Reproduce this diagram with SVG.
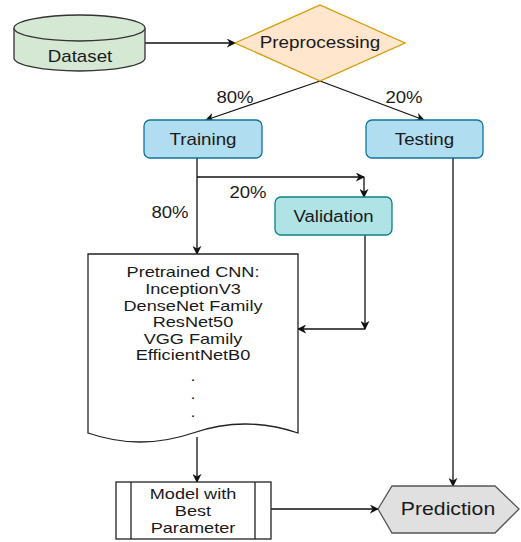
<svg xmlns="http://www.w3.org/2000/svg" width="521" height="542" viewBox="0 0 521 542">
<style>
text{font-family:"Liberation Sans",Arial,sans-serif;font-size:16px;fill:#1a1a1a;text-anchor:middle;dominant-baseline:central}
text.sm{font-size:14.5px}
.ln{fill:none;stroke:#111;stroke-width:1.3}
.arr{marker-end:url(#ah)}
.blue{fill:#B1DDF0;stroke:#10739E;stroke-width:1.3}
.teal{fill:#B0E3E6;stroke:#0E8088;stroke-width:1.3}
</style>
<defs>
<marker id="ah" viewBox="0 0 10 10" refX="9" refY="5" markerWidth="9" markerHeight="9" markerUnits="userSpaceOnUse" orient="auto">
<path d="M0,0 L10,5 L0,10 L3,5 z" fill="#111"/>
</marker>
</defs>
<g id="connectors">
<path class="ln arr" d="M145,43 H235"/>
<path class="ln arr" d="M320,81 L206,120"/>
<path class="ln arr" d="M320,81 L424,120"/>
<path class="ln arr" d="M197,158 V254"/>
<path class="ln arr" d="M197,177 H364"/>
<path class="ln arr" d="M364,177 V197"/>
<path class="ln arr" d="M365,235 V329"/>
<path class="ln arr" d="M365,329 H298"/>
<path class="ln arr" d="M197,437 V482"/>
<path class="ln arr" d="M271,509 H378"/>
<path class="ln arr" d="M453,158 V486"/>
<text transform="translate(235,97) scale(1.16,1)">80%</text>
<text transform="translate(404,97) scale(1.16,1)">20%</text>
<text transform="translate(248,192) scale(1.16,1)">20%</text>
<text transform="translate(170,212) scale(1.16,1)">80%</text>
</g>
<g id="dataset">
<path d="M14,28 V58 A65.5,13 0 0 0 145,58 V28" fill="#D5E8D4" stroke="#333" stroke-width="1.3"/>
<ellipse cx="79.5" cy="28" rx="65.5" ry="13" fill="#D5E8D4" stroke="#333" stroke-width="1.3"/>
<text transform="translate(80,56) scale(1.17,1)">Dataset</text>
</g>
<g id="preprocessing">
<polygon points="235,43 320,5 405,43 320,81" fill="#FFE6CC" stroke="#D79B00" stroke-width="1.3"/>
<text transform="translate(320,43) scale(1.18,1)">Preprocessing</text>
</g>
<g id="training">
<rect class="blue" x="144" y="120" width="118" height="38" rx="6"/>
<text transform="translate(203,139) scale(1.17,1)">Training</text>
</g>
<g id="testing">
<rect class="blue" x="366" y="120" width="117" height="38" rx="6"/>
<text transform="translate(424.5,139) scale(1.17,1)">Testing</text>
</g>
<g id="validation">
<rect class="teal" x="275" y="197" width="117" height="38" rx="6"/>
<text transform="translate(333.5,216) scale(1.16,1)">Validation</text>
</g>
<g id="pretrained">
<path d="M88,254 H298 V433 Q245,415 193,433 Q140,451 88,433 Z" fill="#fff" stroke="#222" stroke-width="1.3"/>
<text class="sm" transform="translate(193,0) scale(1.25,1)"><tspan x="0" y="272">Pretrained CNN:</tspan><tspan x="0" y="289">InceptionV3</tspan><tspan x="0" y="305.5">DenseNet Family</tspan><tspan x="0" y="322">ResNet50</tspan><tspan x="0" y="338.5">VGG Family</tspan><tspan x="0" y="355">EfficientNetB0</tspan><tspan x="0" y="376">.</tspan><tspan x="0" y="394">.</tspan><tspan x="0" y="412">.</tspan></text>
</g>
<g id="model">
<rect x="116" y="482" width="155" height="57" fill="#fff" stroke="#222" stroke-width="1.3"/>
<path d="M131,482 V539 M255,482 V539" stroke="#222" stroke-width="1.3"/>
<text class="sm" transform="translate(193,0) scale(1.25,1)"><tspan x="0" y="494">Model with</tspan><tspan x="0" y="511">Best</tspan><tspan x="0" y="528">Parameter</tspan></text>
</g>
<g id="prediction">
<polygon points="378,509 392,486 495,486 519,509 495,533 392,533" fill="#E0E0E0" stroke="#555" stroke-width="1.3"/>
<text style="font-size:18px" transform="translate(448,509) scale(1.18,1)">Prediction</text>
</g>
</svg>
